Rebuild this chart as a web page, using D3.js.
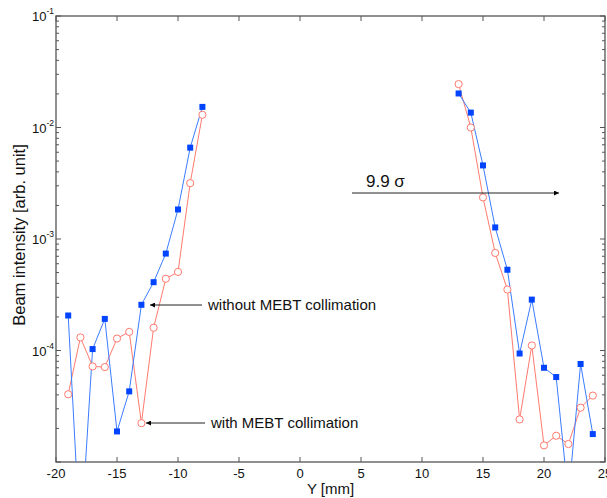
<!DOCTYPE html>
<html><head><meta charset="utf-8">
<script src="https://cdn.jsdelivr.net/npm/d3@7"></script>
<style>body{margin:0;background:#fff;}svg{display:block;font-family:"Liberation Sans",Arial,sans-serif;}</style>
</head><body><svg id="c" width="607" height="498"></svg>
<script>
const leftX = [-19,-18,-17,-16,-15,-14,-13,-12,-11,-10,-9,-8];
const leftWithout = [2.06e-4,1.8e-6,1.03e-4,1.92e-4,1.88e-5,4.3e-5,2.57e-4,4.1e-4,7.4e-4,1.84e-3,6.6e-3,1.53e-2];
const leftWith = [4.05e-5,1.31e-4,7.2e-5,7.1e-5,1.28e-4,1.47e-4,2.23e-5,1.6e-4,4.4e-4,5.07e-4,3.17e-3,1.3e-2];
const rightX = [13,14,15,16,17,18,19,20,21,22,23,24];
const rightWithout = [2.02e-2,1.36e-2,4.57e-3,1.27e-3,5.3e-4,9.4e-5,2.86e-4,7.0e-5,5.78e-5,4.8e-6,7.57e-5,1.78e-5];
const rightWith = [2.45e-2,1.0e-2,2.36e-3,7.5e-4,3.52e-4,2.41e-5,1.11e-4,1.41e-5,1.72e-5,1.45e-5,3.07e-5,3.94e-5];
const xTicks = [-20,-15,-10,-5,0,5,10,15,20,25];
const yDecades = [-5,-4,-3,-2,-1];
const yLabelDecades = [-4,-3,-2,-1];

const svg = d3.select("#c");
const L=56, R=605, T=16, B=462;
const x = d3.scaleLinear().domain([-20,25]).range([L,R]);
const y = d3.scaleLog().domain([1e-5,1e-1]).range([B,T]);
const axisCol = "#555";

svg.append("defs").append("clipPath").attr("id","clip")
  .append("rect").attr("x",L).attr("y",T).attr("width",R-L).attr("height",B-T);

svg.append("rect").attr("x",L).attr("y",T).attr("width",R-L).attr("height",B-T)
  .attr("fill","none").attr("stroke",axisCol).attr("stroke-width",1.3);

const g = svg.append("g");
xTicks.forEach(t=>{
  const px = x(t);
  g.append("line").attr("x1",px).attr("x2",px).attr("y1",B).attr("y2",B-5).attr("stroke",axisCol);
  g.append("line").attr("x1",px).attr("x2",px).attr("y1",T).attr("y2",T+5).attr("stroke",axisCol);
  g.append("text").attr("x",px).attr("y",B+16).attr("text-anchor","middle")
    .attr("font-size",13).attr("fill","#111").text(t);
});

yDecades.forEach(d=>{
  const v = Math.pow(10,d);
  const py = y(v);
  g.append("line").attr("x1",L).attr("x2",L+5).attr("y1",py).attr("y2",py).attr("stroke",axisCol);
  g.append("line").attr("x1",R).attr("x2",R-5).attr("y1",py).attr("y2",py).attr("stroke",axisCol);
  if (yLabelDecades.includes(d)) {
    const tx = g.append("text").attr("x",L-2).attr("y",py+5).attr("text-anchor","end")
      .attr("font-size",13).attr("fill","#111");
    tx.append("tspan").text("10");
    tx.append("tspan").attr("dy",-7).attr("font-size",8.5).text("-"+(-d));
  }
  if (d < -1) {
    for (let m=2;m<=9;m++){
      const pm = y(m*v);
      g.append("line").attr("x1",L).attr("x2",L+3).attr("y1",pm).attr("y2",pm).attr("stroke",axisCol);
      g.append("line").attr("x1",R).attr("x2",R-3).attr("y1",pm).attr("y2",pm).attr("stroke",axisCol);
    }
  }
});

svg.append("text").attr("x",(L+R)/2).attr("y",494).attr("text-anchor","middle")
  .attr("font-size",15).attr("fill","#111").text("Y [mm]");
svg.append("text").attr("transform",`translate(25,${(T+B)/2 - 4}) rotate(-90)`)
  .attr("text-anchor","middle").attr("font-size",16.5).attr("fill","#111")
  .text("Beam intensity [arb. unit]");

const plot = svg.append("g").attr("clip-path","url(#clip)");
const line = d3.line().x(d=>x(d[0])).y(d=>y(d[1]));
const blueLine = "#3b7cff", blueFill = "#0044ff", red = "#ff7a6e";
function series(xs, vs, color){
  plot.append("path").datum(xs.map((v,i)=>[v,vs[i]])).attr("d",line)
    .attr("fill","none").attr("stroke",color).attr("stroke-width",1);
}
series(leftX,leftWith,red); series(rightX,rightWith,red);
series(leftX,leftWithout,blueLine); series(rightX,rightWithout,blueLine);

function circles(xs, vs){
  plot.selectAll(null).data(xs.map((v,i)=>[v,vs[i]])).enter().append("circle")
    .attr("cx",d=>x(d[0])).attr("cy",d=>y(d[1])).attr("r",3.6)
    .attr("fill","#fff").attr("stroke",red).attr("stroke-width",1);
}
function squares(xs, vs){
  plot.selectAll(null).data(xs.map((v,i)=>[v,vs[i]])).enter().append("rect")
    .attr("x",d=>x(d[0])-3).attr("y",d=>y(d[1])-3).attr("width",6).attr("height",6)
    .attr("fill",blueFill);
}
circles(leftX,leftWith); circles(rightX,rightWith);
squares(leftX,leftWithout); squares(rightX,rightWithout);

const defs = svg.select("defs");
defs.append("marker").attr("id","ah").attr("viewBox","0 0 10 10").attr("refX",10).attr("refY",5)
  .attr("markerWidth",7).attr("markerHeight",5).attr("orient","auto")
  .append("path").attr("d","M0,0L10,5L0,10z").attr("fill","#000");
function arrow(x1,y1,x2,y2){
  svg.append("line").attr("x1",x1).attr("y1",y1).attr("x2",x2).attr("y2",y2)
    .attr("stroke","#222").attr("stroke-width",1).attr("marker-end","url(#ah)");
}
arrow(202,305,150,305);
svg.append("text").attr("x",208).attr("y",310).attr("font-size",15).attr("fill","#111").text("without MEBT collimation");
arrow(205,423,146,423);
svg.append("text").attr("x",211).attr("y",428).attr("font-size",15).attr("fill","#111").text("with MEBT collimation");
arrow(352,193,559,193);
svg.append("text").attr("x",366).attr("y",187).attr("font-size",17).attr("fill","#111").text("9.9 σ");
</script></body></html>
